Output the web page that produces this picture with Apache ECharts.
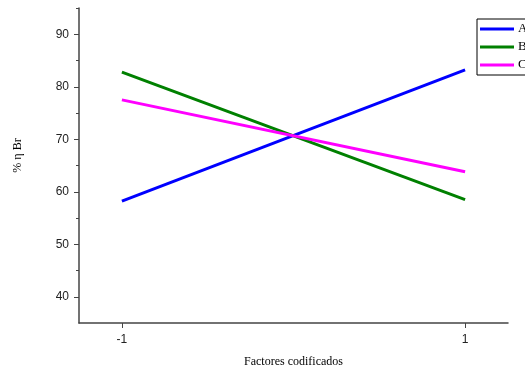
<!DOCTYPE html>
<html>
<head>
<meta charset="utf-8">
<script src="https://cdn.jsdelivr.net/npm/echarts@6/dist/echarts.min.js"></script>
<style>html,body{margin:0;padding:0;background:#fff;}#c{width:525px;height:373px;}</style>
</head>
<body>
<div id="c"></div>
<script>
const xLevels = [-1, 1];
const seriesNames = ['A', 'B', 'C'];
const valuesA = [58.2, 83.2];
const valuesB = [82.8, 58.5];
const valuesC = [77.5, 63.8];
const yMajorTicks = [40, 50, 60, 70, 80, 90];
const yMinorTicks = [45, 55, 65, 75, 85, 95];
const colors = ['#0000ff', '#008000', '#ff00ff'];

const allValues = [valuesA, valuesB, valuesC];
const chart = echarts.init(document.getElementById('c'), null, {renderer: 'canvas'});
const axisColor = '#444';
chart.setOption({
  animation: false,
  grid: {left: 79, right: 17, top: 8, bottom: 46, containLabel: false},
  legend: {
    data: seriesNames,
    orient: 'vertical',
    left: 477, top: 19,
    itemWidth: 34, itemHeight: 3, itemGap: 4,
    icon: 'rect',
    borderColor: '#000', borderWidth: 1, borderRadius: 0,
    padding: [3, 20, 3, 3],
    textStyle: {fontFamily: 'Liberation Serif', fontSize: 13, color: '#000', lineHeight: 14, padding: [0,0,0,-1]}
  },
  xAxis: {
    type: 'value', min: -1.25, max: 1.25,
    name: 'Factores codificados', nameLocation: 'middle', nameGap: 33,
    nameTextStyle: {fontFamily: 'Liberation Serif', fontSize: 12, color: '#000'},
    axisLine: {show: true, onZero: false, lineStyle: {color: axisColor, width: 1.5}},
    axisTick: {show: true, length: 5, inside: false, customValues: xLevels, lineStyle: {color: axisColor}},
    axisLabel: {customValues: xLevels, margin: 11, fontFamily: 'Liberation Sans', fontSize: 12, color: '#222'},
    splitLine: {show: false}
  },
  yAxis: [{
    type: 'value', min: 35, max: 95,
    name: '% η Br', nameLocation: 'middle', nameGap: 55,
    nameTextStyle: {fontFamily: 'Liberation Serif', fontSize: 12, color: '#000', padding: [0, 0, 0, 20]},
    axisLine: {show: true, onZero: false, lineStyle: {color: axisColor, width: 1.5}},
    axisTick: {show: true, length: 5, customValues: yMajorTicks, lineStyle: {color: axisColor}},
    axisLabel: {customValues: yMajorTicks, margin: 10, fontFamily: 'Liberation Sans', fontSize: 12, color: '#222'},
    splitLine: {show: false}
  }, {
    type: 'value', min: 35, max: 95, position: 'left',
    axisLine: {show: false, onZero: false},
    axisTick: {show: true, length: 3, customValues: yMinorTicks, lineStyle: {color: axisColor}},
    axisLabel: {show: false},
    splitLine: {show: false}
  }],
  series: seriesNames.map((n, i) => ({
    name: n, type: 'line', yAxisIndex: 0,
    data: xLevels.map((x, j) => [x, allValues[i][j]]),
    symbol: 'none',
    lineStyle: {color: colors[i], width: 3},
    itemStyle: {color: colors[i]}
  }))
});
</script>
</body>
</html>
